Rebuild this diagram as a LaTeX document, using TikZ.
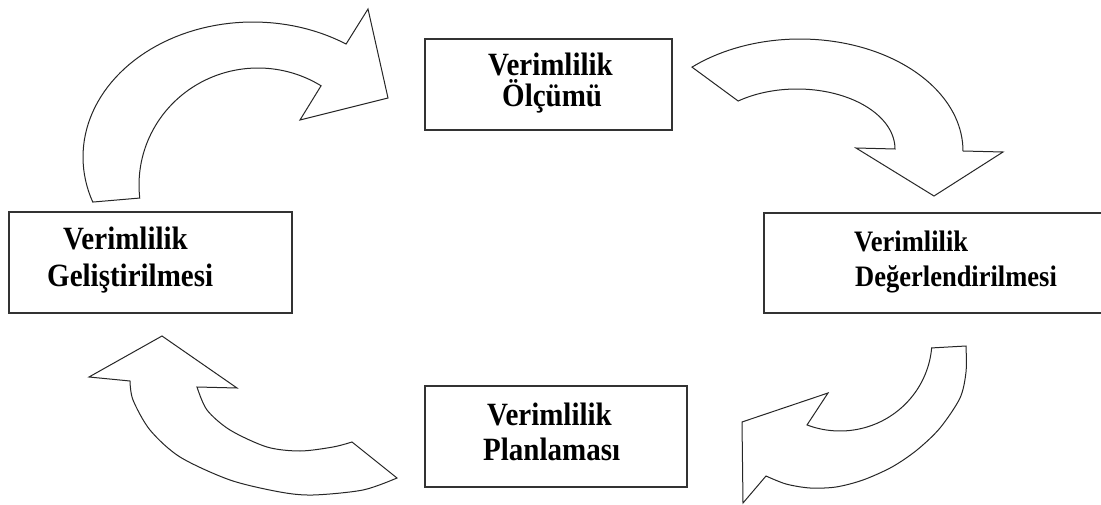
\documentclass[tikz,border=0pt]{standalone}
\usepackage{fontspec}
\setmainfont{Liberation Serif}
\newcommand{\tall}[1]{\scalebox{1}[1.12]{#1}}
\begin{document}
\begin{tikzpicture}[x=1pt,y=-1pt,
  box/.style={draw=black!80, line width=1.5pt, fill=white, inner sep=0pt},
  lbl/.style={font=\fontsize{29}{31}\selectfont\bfseries, anchor=base west, inner sep=0pt, text=black},
  lblsmall/.style={lbl, font=\fontsize{26.5}{29}\selectfont\bfseries},
  blockarrow/.style={draw=black!85, line width=1pt, fill=white, line join=miter}]
\useasboundingbox (0,0) rectangle (1101,505);
\clip (0,0) rectangle (1101,505);

% boxes
\node[box, minimum width=247pt, minimum height=91pt]  (olcum)  at (548.5,84.5)  {};
\node[box, minimum width=340pt, minimum height=100pt] (degerl) at (934,263)     {};
\node[box, minimum width=262pt, minimum height=101pt] (plan)   at (556,436.5)   {};
\node[box, minimum width=283pt, minimum height=101pt] (gelis)  at (150.5,262.5) {};

% box texts
\node[lbl] (olcumA)  at (488,76)  {\tall{Verimlilik}};
\node[lbl] (olcumB)  at (502,107) {\tall{Ölçümü}};
\node[lblsmall] (degerlA) at (854,252) {\tall{Verimlilik}};
\node[lblsmall] (degerlB) at (855,287) {\tall{Değerlendirilmesi}};
\node[lbl] (planA)   at (487,425) {\tall{Verimlilik}};
\node[lbl] (planB)   at (483,460) {\tall{Planlaması}};
\node[lbl] (gelisA)  at (63,250)  {\tall{Verimlilik}};
\node[lbl] (gelisB)  at (47,287)  {\tall{Geliştirilmesi}};

% curved block arrow: improvement -> measurement
\draw[blockarrow]
  plot[domain=160.5:303.2, samples=60] ({253+170*cos(\x)},{157+135*sin(\x)})
  -- (368,9) -- (388,98) -- (300,120)
  -- plot[domain=302:173.6, samples=60] ({258+119*cos(\x)},{185+117*sin(\x)})
  -- cycle;

% curved block arrow: measurement -> evaluation
\draw[blockarrow]
  plot[domain=228.5:360, samples=60] ({800+163*cos(\x)},{151+112*sin(\x)})
  -- (1003,152) -- (934,196) -- (856,148)
  -- plot[domain=360:233.1, samples=60] ({797+98*cos(\x)},{149+60*sin(\x)})
  -- cycle;

% curved block arrow: evaluation -> planning
\draw[blockarrow]
  plot[smooth] coordinates {(966,346) (966,372) (960,398) (940,428) (917,450)
    (892,467) (863,480) (836,487) (810,488) (786,484) (766,476)}
  -- (743,503) -- (742,422) -- (828,393)
  -- plot[domain=111:5, samples=60] ({840+92*cos(\x)},{340+91*sin(\x)})
  -- cycle;

% curved block arrow: planning -> improvement
\draw[blockarrow]
  (162,336) -- (237,388)
  -- plot[smooth] coordinates {(197,387) (207,410) (230,430) (267,447)
    (300,451) (333,447) (352,442)}
  -- plot[smooth] coordinates {(397,478) (363,490) (313,495) (280,492)
    (230,480) (180,457) (150,430) (133,400) (130,381)}
  -- (89,377) -- cycle;
\end{tikzpicture}
\end{document}
